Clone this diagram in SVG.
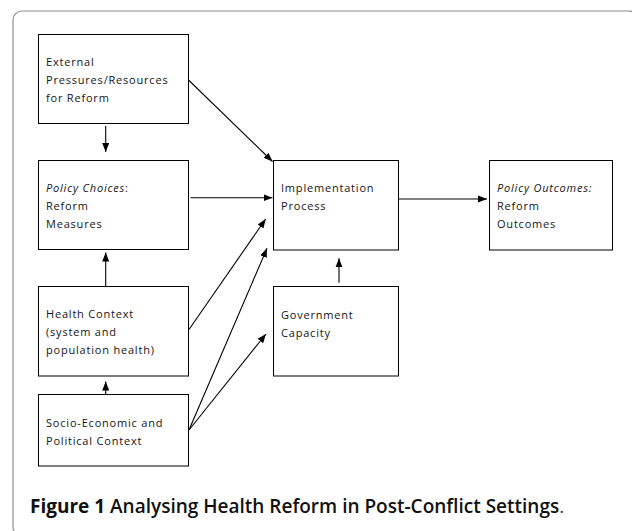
<svg xmlns="http://www.w3.org/2000/svg" width="632" height="531" viewBox="0 0 632 531">
<style>
.box{fill:#fff;stroke:#000;stroke-width:1}
.t{font-family:"Open Sans","Liberation Sans",sans-serif;font-size:11px;letter-spacing:0.8px;fill:#151515}
.i{font-style:italic}
.c{stroke:#000;stroke-width:1.1;fill:none;marker-end:url(#ah)}
.cap{font-family:"Open Sans","Liberation Sans",sans-serif;font-size:19px;fill:#111}
</style>
<defs>
<marker id="ah" markerUnits="userSpaceOnUse" markerWidth="10" markerHeight="10" viewBox="0 0 10 10" refX="9" refY="5" orient="auto">
<path d="M0,1.5 L9,5 L0,8.5 Z" fill="#000"/>
</marker>
</defs>
<rect x="13" y="11" width="625" height="525" rx="9" fill="#fff" stroke="#8c8c8c" stroke-width="1.2"/>
<g id="connectors">
<line class="c" x1="105.7" y1="126" x2="105.7" y2="152"/>
<line class="c" x1="188.5" y1="80" x2="272.5" y2="161.5"/>
<line class="c" x1="190.5" y1="197.7" x2="272.5" y2="197.7"/>
<line class="c" x1="105.7" y1="286" x2="105.7" y2="252.5"/>
<line class="c" x1="105.7" y1="394" x2="105.7" y2="381.5"/>
<line class="c" x1="189" y1="329.5" x2="265.7" y2="219"/>
<line class="c" x1="189" y1="430" x2="267" y2="248.3"/>
<line class="c" x1="189" y1="430" x2="266" y2="334"/>
<line class="c" x1="339" y1="282.7" x2="339" y2="258.3"/>
<line class="c" x1="398.5" y1="199" x2="487" y2="199"/>
</g>
<g id="external">
<rect class="box" x="38.5" y="34.5" width="150" height="89"/>
<text class="t" x="46" y="65.5">External</text>
<text class="t" x="46" y="83.5">Pressures/Resources</text>
<text class="t" x="46" y="101.5">for Reform</text>
</g>
<g id="policy-choices">
<rect class="box" x="38.5" y="160.5" width="150" height="89"/>
<text class="t" x="46" y="191.5"><tspan class="i">Policy Choices</tspan>:</text>
<text class="t" x="46" y="209.5">Reform</text>
<text class="t" x="46" y="227.5">Measures</text>
</g>
<g id="health-context">
<rect class="box" x="38.5" y="286.5" width="150" height="89.5"/>
<text class="t" x="46" y="317.5">Health Context</text>
<text class="t" x="46" y="335.5">(system and</text>
<text class="t" x="46" y="353.5">population health)</text>
</g>
<g id="socio-economic">
<rect class="box" x="38.5" y="394.5" width="150" height="71.5"/>
<text class="t" x="46" y="426.5">Socio-Economic and</text>
<text class="t" x="46" y="444.5">Political Context</text>
</g>
<g id="implementation">
<rect class="box" x="273.5" y="160.5" width="125" height="89.5"/>
<text class="t" x="281" y="192">Implementation</text>
<text class="t" x="281" y="210">Process</text>
</g>
<g id="government">
<rect class="box" x="273.5" y="286.5" width="125" height="89.5"/>
<text class="t" x="281" y="318.5">Government</text>
<text class="t" x="281" y="336.5">Capacity</text>
</g>
<g id="outcomes">
<rect class="box" x="489.5" y="160.5" width="123" height="89.5"/>
<text class="t" x="497" y="192"><tspan class="i">Policy Outcomes:</tspan></text>
<text class="t" x="497" y="210">Reform</text>
<text class="t" x="497" y="228">Outcomes</text>
</g>
<text class="cap" x="30" y="513"><tspan font-weight="700">Figure 1</tspan><tspan font-weight="600"> Analysing Health Reform in Post-Conflict Settings</tspan><tspan font-weight="400" fill="#444">.</tspan></text>
</svg>
